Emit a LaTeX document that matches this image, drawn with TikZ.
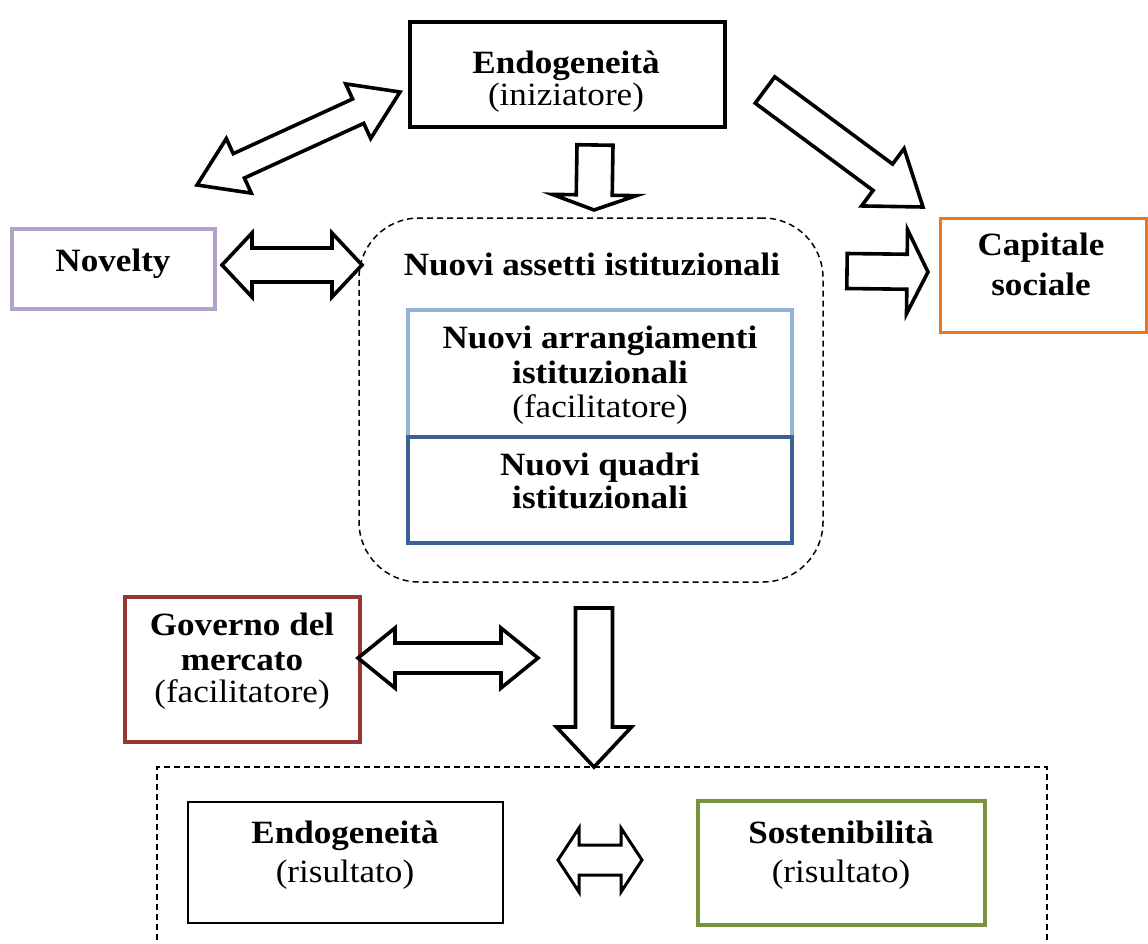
\documentclass[tikz,border=0pt]{standalone}
\usepackage{fontspec}
\setmainfont{Liberation Serif}[FakeStretch=1.08]
\usetikzlibrary{calc}

\definecolor{noveltycol}{HTML}{B3A2C7}
\definecolor{capitalecol}{HTML}{E87722}
\definecolor{arrangcol}{HTML}{95B3D7}
\definecolor{quadricol}{HTML}{3B6095}
\definecolor{governocol}{HTML}{953735}
\definecolor{sostencol}{HTML}{77933C}

% block arrow: tail, tip, shaft half-width, head half-width, head length
\newcommand\fatarrow[5]{%
  \coordinate (hb) at ($(#2)!#5!(#1)$);
  \draw[blockarrow] ($(#1)!#3!90:(#2)$) -- ($(hb)!#3!90:(#2)$) -- ($(hb)!#4!90:(#2)$)
    -- (#2) -- ($(hb)!#4!-90:(#2)$) -- ($(hb)!#3!-90:(#2)$) -- ($(#1)!#3!-90:(#2)$) -- cycle;}

% double block arrow: end, end, shaft half-width, head half-width, head length
\newcommand\fatdblarrow[5]{%
  \coordinate (ha) at ($(#1)!#5!(#2)$);
  \coordinate (hb) at ($(#2)!#5!(#1)$);
  \draw[blockarrow] (#1) -- ($(ha)!#4!90:(#2)$) -- ($(ha)!#3!90:(#2)$) -- ($(hb)!#3!90:(#2)$)
    -- ($(hb)!#4!90:(#2)$) -- (#2) -- ($(hb)!#4!-90:(#2)$) -- ($(hb)!#3!-90:(#2)$)
    -- ($(ha)!#3!-90:(#2)$) -- ($(ha)!#4!-90:(#2)$) -- cycle;}

\tikzset{
  blockarrow/.style={draw=black, fill=white, line width=3.6pt, line join=miter},
  box/.style={draw, line width=3.6pt, fill=white, inner sep=0pt, rectangle},
  dashbox/.style={draw, line width=1.5pt, dash pattern=on 6pt off 4pt, inner sep=0pt, rectangle},
  % multi-line texts are placed by the baseline of their last line
  txt/.style={align=center, anchor=base, inner sep=0pt, font=\fontsize{32.5}{35}\selectfont},
}

\begin{document}
\begin{tikzpicture}[x=1pt, y=-1pt]
\useasboundingbox[fill=white] (0,0) rectangle (1148,943);

% containers
\node[dashbox, rounded corners=60pt, minimum width=464pt, minimum height=364pt] (assetti) at (591,400) {};
\node[dashbox, minimum width=890pt, minimum height=193pt] (risultati) at (602,863.5) {};

% boxes
\node[box, minimum width=315pt, minimum height=105pt] (endo) at (567.5,74.5) {};
\node[box, draw=noveltycol, minimum width=203pt, minimum height=80pt] (novelty) at (113.5,269) {};
\node[box, draw=capitalecol, line width=3pt, minimum width=206pt, minimum height=114pt] (capitale) at (1043,275) {};
\node[box, draw=arrangcol, minimum width=384pt, minimum height=127pt] (arrang) at (600,373.5) {};
\node[box, draw=quadricol, minimum width=384pt, minimum height=106pt] (quadri) at (600,490) {};
\node[box, draw=governocol, minimum width=235pt, minimum height=145pt] (governo) at (242.5,669.5) {};
\node[box, line width=2.8pt, minimum width=315pt, minimum height=121pt] (endoR) at (345.5,862.5) {};
\node[box, draw=sostencol, line width=4pt, minimum width=287pt, minimum height=124pt] (sosten) at (841.5,863) {};

% texts
\node[txt] (endoT) at (566,105) {\textbf{Endogeneità}\\[-3pt](iniziatore)};
\node[txt] (noveltyT) at (113,271) {\textbf{Novelty}};
\node[txt] (capitaleT) at (1041,295) {\textbf{Capitale}\\[5pt]\textbf{sociale}};
\node[txt] (assettiT) at (592,275) {\textbf{Nuovi assetti istituzionali}};
\node[txt] (arrangT) at (600,417) {\textbf{Nuovi arrangiamenti}\\\textbf{istituzionali}\\[-1pt](facilitatore)};
\node[txt] (quadriT) at (600,508) {\textbf{Nuovi quadri}\\[-2pt]\textbf{istituzionali}};
\node[txt] (governoT) at (242,702) {\textbf{Governo del}\\\textbf{mercato}\\[-3pt](facilitatore)};
\node[txt] (endoRT) at (345,882) {\textbf{Endogeneità}\\[4pt](risultato)};
\node[txt] (sostenT) at (841,882) {\textbf{Sostenibilità}\\[4pt](risultato)};

% arrow end points
\coordinate (novA) at (197,185);
\coordinate (novB) at (400,92);
\coordinate (capA) at (765,90);
\coordinate (capB) at (923,207);
\coordinate (assA) at (595,145);
\coordinate (assB) at (594,210);
\coordinate (nvA) at (222,265);
\coordinate (nvB) at (362,265);
\coordinate (csA) at (847,271);
\coordinate (csB) at (928,272);
\coordinate (govA) at (358,658);
\coordinate (govB) at (538,658);
\coordinate (resA) at (594,608);
\coordinate (resB) at (594,767);
\coordinate (esA) at (558,860);
\coordinate (esB) at (642,860);

% arrows
\fatdblarrow{novA}{novB}{13.4pt}{30pt}{46pt}
\fatarrow{capA}{capB}{16.4pt}{35.7pt}{50pt}
\fatarrow{assA}{assB}{18pt}{42pt}{15pt}
\fatdblarrow{nvA}{nvB}{17pt}{32pt}{30pt}
\fatarrow{csA}{csB}{17.5pt}{42pt}{21pt}
\fatdblarrow{govA}{govB}{15pt}{30pt}{37pt}
\fatarrow{resA}{resB}{18.5pt}{37.5pt}{40pt}
\begingroup
\tikzset{blockarrow/.append style={line width=3pt}}
\fatdblarrow{esA}{esB}{15pt}{32pt}{21pt}
\endgroup
\end{tikzpicture}
\end{document}
